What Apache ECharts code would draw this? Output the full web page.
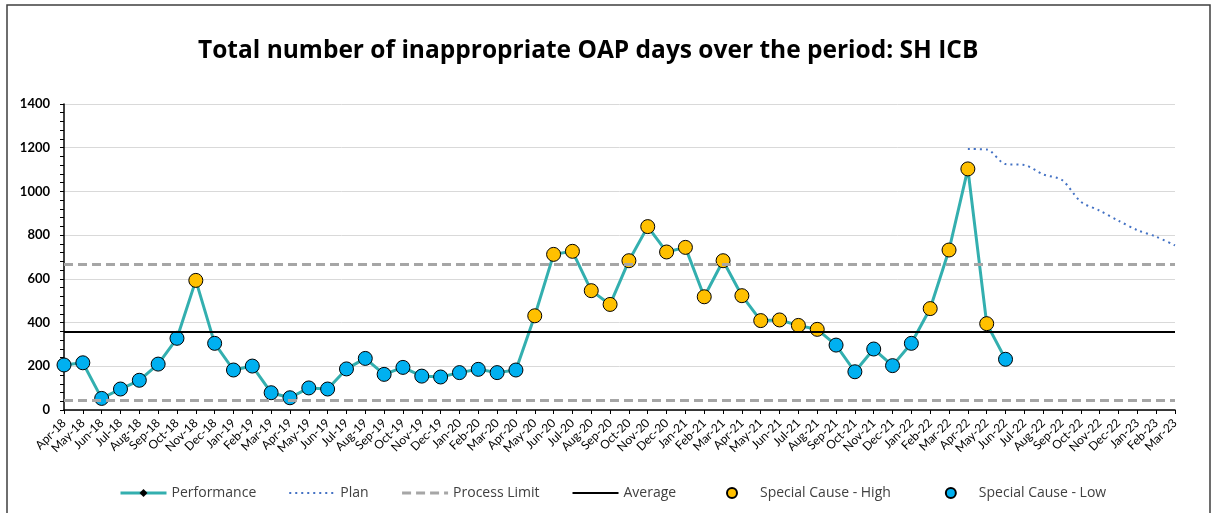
<!DOCTYPE html>
<html>
<head>
<meta charset="utf-8">
<script src="https://cdn.jsdelivr.net/npm/echarts@6/dist/echarts.min.js"></script>
<style>
  html, body { margin: 0; padding: 0; background: #fff; }
  #chart { width: 1213px; height: 513px; }
</style>
</head>
<body>
<div id="chart"></div>
<script>
const months = [
  'Apr-18', 'May-18', 'Jun-18', 'Jul-18', 'Aug-18', 'Sep-18', 'Oct-18', 'Nov-18', 'Dec-18', 'Jan-19', 'Feb-19', 'Mar-19',
  'Apr-19', 'May-19', 'Jun-19', 'Jul-19', 'Aug-19', 'Sep-19', 'Oct-19', 'Nov-19', 'Dec-19', 'Jan-20', 'Feb-20', 'Mar-20',
  'Apr-20', 'May-20', 'Jun-20', 'Jul-20', 'Aug-20', 'Sep-20', 'Oct-20', 'Nov-20', 'Dec-20', 'Jan-21', 'Feb-21', 'Mar-21',
  'Apr-21', 'May-21', 'Jun-21', 'Jul-21', 'Aug-21', 'Sep-21', 'Oct-21', 'Nov-21', 'Dec-21', 'Jan-22', 'Feb-22', 'Mar-22',
  'Apr-22', 'May-22', 'Jun-22', 'Jul-22', 'Aug-22', 'Sep-22', 'Oct-22', 'Nov-22', 'Dec-22', 'Jan-23', 'Feb-23', 'Mar-23'
]

// monthly performance, Apr-18 .. Jun-22
const performance = [
  206, 216, 53, 96, 136, 210, 328, 593, 305, 183, 201, 79,
  56, 101, 96, 188, 236, 163, 195, 155, 151, 171, 186, 171,
  183, 431, 712, 726, 546, 483, 683, 839, 723, 744, 518, 683,
  523, 409, 412, 387, 369, 297, 175, 279, 203, 305, 464, 732,
  1103, 395, 232
]

// special cause flag per point: H = high, L = low
const cause = [
  'L', 'L', 'L', 'L', 'L', 'L', 'L', 'H', 'L', 'L', 'L', 'L',
  'L', 'L', 'L', 'L', 'L', 'L', 'L', 'L', 'L', 'L', 'L', 'L',
  'L', 'H', 'H', 'H', 'H', 'H', 'H', 'H', 'H', 'H', 'H', 'H',
  'H', 'H', 'H', 'H', 'H', 'L', 'L', 'L', 'L', 'L', 'H', 'H',
  'H', 'H', 'L'
]

// plan, Apr-22 .. Mar-23
const planStart = 48
const plan = [1194, 1192, 1125, 1121, 1078, 1052, 953, 912, 866, 823, 793, 753]

const upperLimit = 666
const lowerLimit = 43
const average = 357

const planData = months.map((m, i) => i >= planStart ? plan[i - planStart] : null)
const highData = performance.map((v, i) => cause[i] === 'H' ? v : null)
const lowData = performance.map((v, i) => cause[i] === 'L' ? v : null)

const font = 'Lato, "Open Sans", sans-serif'
const wideFont = '"Open Sans", Lato, sans-serif'

const legendBase = {
  top: 481,
  itemWidth: 46,
  itemHeight: 10,
  textStyle: { fontFamily: wideFont, fontSize: 14, color: '#404040' }
}

let myChart = echarts.init(document.getElementById('chart'))

let option = {
  animation: false,
  textStyle: { fontFamily: font },
  title: {
    text: 'Total number of inappropriate OAP days over the period: SH ICB',
    left: 193,
    top: 34,
    textStyle: { fontFamily: wideFont, fontSize: 24.5, fontWeight: 'bold', color: '#000' }
  },
  graphic: [{
    type: 'rect',
    shape: { x: 7, y: 5, width: 1203, height: 520 },
    style: { fill: 'none', stroke: '#3f3f3f', lineWidth: 1.5 },
    silent: true
  }],
  legend: [
    Object.assign({}, legendBase, {
      left: 114,
      itemGap: 32,
      data: [
        { name: 'Performance', itemStyle: { color: '#000' }, lineStyle: { width: 3 } },
        { name: 'Plan', itemStyle: { opacity: 0 }, lineStyle: { width: 2 } },
        { name: 'Process Limit', itemStyle: { opacity: 0 }, lineStyle: { width: 3 } },
        { name: 'Average', itemStyle: { opacity: 0 }, lineStyle: { width: 2 } }
      ]
    }),
    Object.assign({}, legendBase, {
      left: 721,
      itemGap: 54,
      data: [
        { name: 'Special Cause - High', icon: 'circle' },
        { name: 'Special Cause - Low', icon: 'circle' }
      ]
    })
  ],
  grid: { left: 64, right: 38, top: 104, bottom: 103 },
  xAxis: {
    type: 'category',
    data: months,
    boundaryGap: false,
    axisLine: { lineStyle: { color: '#000', width: 1.5 } },
    axisTick: { show: true, interval: 0, length: 4, lineStyle: { color: '#000' } },
    axisLabel: { interval: 0, rotate: 45, fontSize: 12, color: '#000', margin: 11 },
    splitLine: { show: false }
  },
  yAxis: {
    type: 'value',
    min: 0,
    max: 1400,
    interval: 200,
    axisLine: { show: true, lineStyle: { color: '#000', width: 1.5 } },
    axisTick: { show: true, length: 4, lineStyle: { color: '#000' } },
    minorTick: { show: true, splitNumber: 5, length: 4, lineStyle: { color: '#000' } },
    axisLabel: {
      fontSize: 13, fontWeight: 'bold', color: '#000', margin: 14,
      formatter: v => String(v)
    },
    splitLine: { lineStyle: { color: '#d9d9d9', width: 1 } }
  },
  series: [
    {
      name: 'Process Limit',
      type: 'line',
      data: [],
      symbol: 'none',
      lineStyle: { color: '#a6a6a6', width: 3, type: [9, 5] },
      itemStyle: { color: '#a6a6a6' },
      markLine: {
        silent: true,
        symbol: ['none', 'none'],
        label: { show: false },
        lineStyle: { color: '#a6a6a6', width: 3, type: [9, 5] },
        data: [{ yAxis: upperLimit }, { yAxis: lowerLimit }]
      },
      z: 1
    },
    {
      name: 'Average',
      type: 'line',
      data: [],
      symbol: 'none',
      lineStyle: { color: '#000', width: 2, type: 'solid' },
      itemStyle: { color: '#000' },
      markLine: {
        silent: true,
        symbol: ['none', 'none'],
        label: { show: false },
        lineStyle: { color: '#000', width: 2, type: 'solid' },
        data: [{ yAxis: average }]
      },
      z: 1
    },
    {
      name: 'Plan',
      type: 'line',
      data: planData,
      symbol: 'none',
      smooth: 0.3,
      lineStyle: { color: '#4472c4', width: 2, type: [2, 4] },
      itemStyle: { color: '#4472c4' },
      z: 2
    },
    {
      name: 'Performance',
      type: 'line',
      data: performance,
      symbol: 'diamond',
      showSymbol: false,
      lineStyle: { color: '#33afaf', width: 3 },
      itemStyle: { color: '#33afaf' },
      z: 3
    },
    {
      name: 'Special Cause - High',
      type: 'scatter',
      data: highData,
      symbol: 'circle',
      symbolSize: 14,
      itemStyle: { color: '#ffc000', borderColor: '#000', borderWidth: 1, opacity: 1 },
      z: 4
    },
    {
      name: 'Special Cause - Low',
      type: 'scatter',
      data: lowData,
      symbol: 'circle',
      symbolSize: 14,
      itemStyle: { color: '#00b0f0', borderColor: '#000', borderWidth: 1, opacity: 1 },
      z: 4
    }
  ]
}

myChart.setOption(option)
</script>
</body>
</html>
